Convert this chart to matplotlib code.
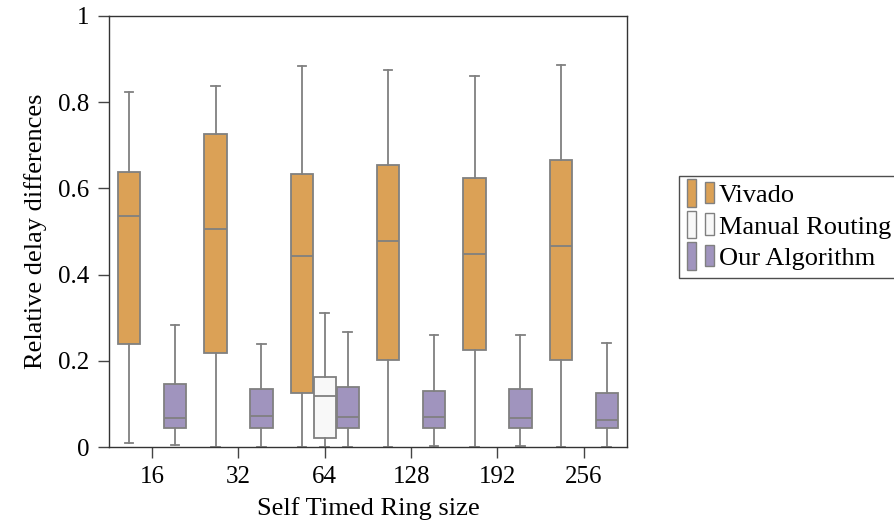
import matplotlib
matplotlib.use("Agg")
import matplotlib.pyplot as plt
from matplotlib.patches import Patch, Rectangle
from matplotlib.ticker import FixedLocator, FuncFormatter

plt.rcParams['font.family'] = ['Liberation Serif', 'DejaVu Serif']

sizes = ['16', '32', '64', '128', '192', '256']

# five-number summaries per series: [low whisker, q1, median, q3, high whisker]
vivado = [
    [0.009, 0.239, 0.536, 0.639, 0.824],
    [0.0, 0.217, 0.506, 0.726, 0.838],
    [0.0, 0.125, 0.442, 0.633, 0.884],
    [0.0, 0.201, 0.477, 0.655, 0.875],
    [0.0, 0.225, 0.447, 0.625, 0.860],
    [0.0, 0.201, 0.466, 0.666, 0.886],
]
manual_groups = [2]  # index of sizes that have a manual-routing box
manual = [
    [0.0, 0.020, 0.119, 0.163, 0.311],
]
ours = [
    [0.005, 0.044, 0.067, 0.147, 0.283],
    [0.0, 0.044, 0.071, 0.135, 0.239],
    [0.0, 0.044, 0.069, 0.139, 0.266],
    [0.003, 0.044, 0.070, 0.131, 0.261],
    [0.002, 0.044, 0.068, 0.134, 0.261],
    [0.0, 0.044, 0.063, 0.126, 0.241],
]

series_names = ['Vivado', 'Manual Routing', 'Our Algorithm']
colors = ['#dba156', '#f8f8f8', '#a094be']
edge = '#808080'


def to_stats(rows):
    return [dict(whislo=r[0], q1=r[1], med=r[2], q3=r[3], whishi=r[4], fliers=[])
            for r in rows]


fig = plt.figure(figsize=(8.94, 5.28), dpi=100)
ax = fig.add_axes([0.1219, 0.1534, 0.5794, 0.8163])

off = 0.266
bw = 0.26
groups = [
    (to_stats(vivado), [i + 1 - off for i in range(len(sizes))], colors[0]),
    (to_stats(manual), [i + 1 for i in manual_groups], colors[1]),
    (to_stats(ours), [i + 1 + off for i in range(len(sizes))], colors[2]),
]
for stats, pos, col in groups:
    ax.bxp(stats, positions=pos, widths=bw, showfliers=False, patch_artist=True,
           manage_ticks=False, capwidths=0.1,
           boxprops=dict(facecolor=col, edgecolor=edge, linewidth=1.3),
           medianprops=dict(color=edge, linewidth=1.3),
           whiskerprops=dict(color=edge, linewidth=1.3),
           capprops=dict(color=edge, linewidth=1.3))

ax.set_xlim(0.5, 6.5)
ax.set_ylim(0, 1)
ax.xaxis.set_major_locator(FixedLocator(range(1, len(sizes) + 1)))
ax.set_xticklabels(sizes)
ax.yaxis.set_major_locator(FixedLocator([0, 0.2, 0.4, 0.6, 0.8, 1.0]))
ax.yaxis.set_major_formatter(FuncFormatter(lambda v, p: '%g' % v))
ax.tick_params(direction='out', length=8, width=1, color='#444444',
               labelsize=18, pad=6)
for s in ax.spines.values():
    s.set_color('#333333')
    s.set_linewidth(1.0)

ax.set_xlabel('Self Timed Ring size', fontsize=19, labelpad=6)
ax.set_ylabel('Relative delay differences', fontsize=19, labelpad=8)


class BoxHandler:
    def legend_artist(self, legend, orig_handle, fontsize, handlebox):
        x0, y0 = -handlebox.xdescent, -handlebox.ydescent
        w, h = handlebox.width, handlebox.height
        fc = orig_handle.get_facecolor()
        tr = handlebox.get_transform()
        r1 = Rectangle((x0, y0 - 0.25 * h), 0.3 * w, 1.5 * h, facecolor=fc,
                       edgecolor=edge, linewidth=1.0, transform=tr)
        r2 = Rectangle((x0 + 0.62 * w, y0 - 0.05 * h), 0.3 * w, 1.15 * h, facecolor=fc,
                       edgecolor=edge, linewidth=1.0, transform=tr)
        handlebox.add_artist(r1)
        handlebox.add_artist(r2)
        return r1


handles = [Patch(facecolor=c, label=n) for c, n in zip(colors, series_names)]
leg = fig.legend(handles=handles, loc='upper left', bbox_to_anchor=(0.7595, 0.6667),
                 borderaxespad=0, fancybox=False, frameon=True, fontsize=19,
                 handler_map={Patch: BoxHandler()}, handlelength=1.1,
                 handletextpad=0.1, labelspacing=0.3, borderpad=0.3)
leg.get_frame().set_edgecolor('#222222')
leg.get_frame().set_linewidth(1.0)

fig.savefig('out.png', dpi=100)
